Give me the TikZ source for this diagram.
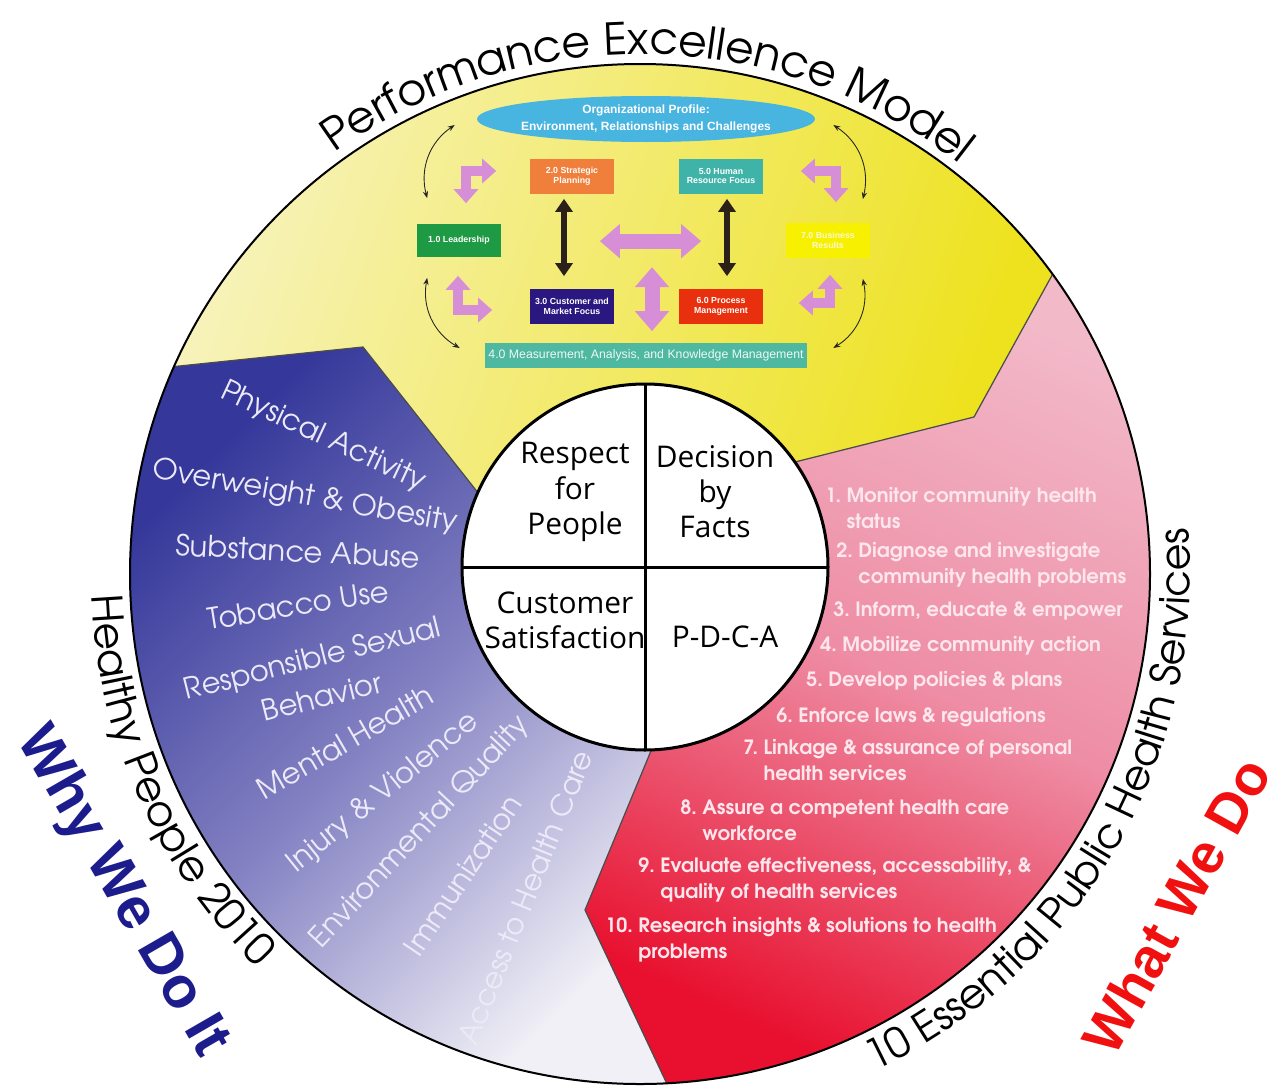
\documentclass[tikz,border=0pt]{standalone}
\usepackage{fontspec}
\usepackage{tikz}
\usetikzlibrary{arrows.meta,decorations.text,shapes.geometric}

\newfontfamily\gothic{texgyreadventor}[Extension=.otf, UprightFont=*-regular, BoldFont=*-bold]
\newfontfamily\hubfont{Open Sans}
\newfontfamily\boxfont{Liberation Sans}

\definecolor{palegold}{HTML}{F7F3BE}
\definecolor{gold}{HTML}{EEE21E}
\definecolor{hpdark}{HTML}{35389A}
\definecolor{hpmid}{HTML}{8583C3}
\definecolor{hplight}{HTML}{F1F0F6}
\definecolor{ephslight}{HTML}{F2B9C9}
\definecolor{ephsmid}{HTML}{EE8DA5}
\definecolor{ephsred}{HTML}{E8102E}
\definecolor{lavwhite}{HTML}{ECEAF8}
\definecolor{pinkwhite}{HTML}{FDE6EC}
\definecolor{orchid}{HTML}{D68FD6}
\definecolor{arrowdark}{HTML}{2B2118}
\definecolor{stratorange}{HTML}{F07F3C}
\definecolor{hrteal}{HTML}{3FB3A8}
\definecolor{leadgreen}{HTML}{1F9A44}
\definecolor{resyellow}{HTML}{F7F000}
\definecolor{resyellowtext}{HTML}{FBFAC8}
\definecolor{custnavy}{HTML}{2B1780}
\definecolor{procred}{HTML}{E8300E}
\definecolor{measteal}{HTML}{4FB8A0}
\definecolor{profileblue}{HTML}{48B4E0}
\definecolor{whynavy}{HTML}{1C1C8C}
\definecolor{whatred}{HTML}{F01010}

\newcommand\ringfont{\gothic\fontsize{25}{25}\selectfont}

\tikzset{
	seam/.style={draw=black!70, line width=0.025cm},
	kitebox/.style={rectangle, minimum width=1.7cm, minimum height=0.7cm, inner sep=1pt,
		text=white, align=center, font=\boxfont\bfseries\fontsize{5}{5.6}\selectfont},
	hubtext/.style={align=center, inner sep=0pt, font=\hubfont\fontsize{17}{20}\selectfont},
	hpitem/.style={text=lavwhite, inner sep=0pt, align=center, font=\gothic\fontsize{16.5}{22.8}\selectfont},
	svc/.style={anchor=base west, text=pinkwhite, inner sep=0pt, font=\gothic\bfseries\fontsize{11.2}{14.8}\selectfont},
	blackarr/.style={draw=arrowdark, line width=0.12cm,
		{Triangle[width=0.34cm,length=0.26cm]}-{Triangle[width=0.34cm,length=0.26cm]}},
	fatarr/.style={draw=orchid, line width=0.3cm,
		{Triangle[width=0.66cm,length=0.4cm]}-{Triangle[width=0.66cm,length=0.4cm]}},
	elbowarr/.style={draw=orchid, line width=0.2cm,
		{Triangle[width=0.48cm,length=0.28cm]}-{Triangle[width=0.48cm,length=0.28cm]}},
	linkarr/.style={draw=black!85, line width=0.5pt,
		{Stealth[length=4pt,width=3pt]}-{Stealth[length=4pt,width=3pt]}},
}

\begin{document}
\begin{tikzpicture}[x=0.02cm, y=0.02cm]
		%%%%% START %%%%%
		\useasboundingbox (0,0) rectangle (1282,-1086);
		
		\coordinate (O) at (640,-574);
		\coordinate (I) at (645,-567);
		
		% three coloured parts of the ring
		\shade[left color=palegold, right color=gold, shading angle=70]
			([shift={(156:510)}]O) -- (363,-347) -- ([shift={(156:183)}]I)
			arc[start angle=156, end angle=35, radius=183] -- (974,-417)
			-- ([shift={(36:510)}]O) arc[start angle=36, end angle=156, radius=510] -- cycle;
		\shade[top color=ephslight, bottom color=ephsred, middle color=ephsmid, shading angle=-25]
			([shift={(35:183)}]I) -- (974,-417) -- ([shift={(36:510)}]O)
			arc[start angle=36, end angle=-87, radius=510] -- (585,-910)
			-- ([shift={(-88:183)}]I) arc[start angle=-88, end angle=35, radius=183] -- cycle;
		\shade[top color=hpdark, bottom color=hplight, middle color=hpmid, shading angle=45]
			([shift={(156:510)}]O) -- (363,-347) -- ([shift={(156:183)}]I)
			arc[start angle=156, end angle=272, radius=183] -- (585,-910)
			-- ([shift={(-87:510)}]O) arc[start angle=273, end angle=156, radius=510] -- cycle;
		
		\draw[seam] ([shift={(156:510)}]O) -- (363,-347) -- ([shift={(156:183)}]I);
		\draw[seam] ([shift={(35:183)}]I) -- (974,-417) -- ([shift={(36:510)}]O);
		\draw[seam] ([shift={(-88:183)}]I) -- (585,-910) -- ([shift={(-87:510)}]O);
		
		\draw[line width=0.04cm] (O) circle[radius=510];
		
		% hub
		\draw[fill=white, line width=0.06cm] (I) circle[radius=183];
		\draw[line width=0.06cm] ([shift={(0,183)}]I) -- ([shift={(0,-183)}]I);
		\draw[line width=0.06cm] ([shift={(-183,0)}]I) -- ([shift={(183,0)}]I);
		
		\node[hubtext] (respect) at (575,-492) {Respect\\for\\People};
		\node[hubtext] (facts) at (715,-492) {Decision\\by\\Facts};
		\node[hubtext] (satisf) at (565,-620) {Customer\\Satisfaction};
		\node[hubtext] (pdca) at (725,-637) {P-D-C-A};
		
		% ring titles
		\path[decorate, decoration={text along path, text align=center,
			text={|\ringfont|Performance Excellence Model}}]
			([shift={(140:520)}]O) arc[start angle=140, end angle=38, radius=520];
		\path[decorate, decoration={text along path, text align=center,
			text={|\gothic\fontsize{24}{24}\selectfont|Healthy People 2010}}]
			([shift={(170:549)}]O) arc[start angle=170, end angle=238, radius=549];
		\path[decorate, decoration={text along path, text align=center,
			text={|\gothic\fontsize{23.5}{23.5}\selectfont|10 Essential Public Health Services}}]
			([shift={(-78:550)}]O) arc[start angle=-78, end angle=18, radius=550];
		
		% Healthy People focus areas
		\node[hpitem, rotate=-25] (hp1) at (323,-437) {Physical Activity};
		\node[hpitem, rotate=-10] (hp2) at (305,-497) {Overweight \& Obesity};
		\node[hpitem, rotate=-3] (hp3) at (298,-551) {Substance Abuse};
		\node[hpitem, rotate=9] (hp4) at (298,-605) {Tobacco Use};
		\node[hpitem, rotate=14] (hp5) at (317,-677) {Responsible Sexual\\Behavior};
		\node[hpitem, rotate=30] (hp6) at (345,-742) {Mental Health};
		\node[hpitem, rotate=39] (hp7) at (383,-793) {Injury \& Violence};
		\node[hpitem, rotate=47] (hp8) at (420,-832) {Environmental Quality};
		\node[hpitem, rotate=56] (hp9) at (463,-875) {Immunization};
		\node[hpitem, rotate=68] (hp10) at (525,-897) {Access to Health Care};
		
		% essential services
		\node[svc] (s1) at (825,-502) {\begin{tabular}[t]{@{}r@{\ }l@{}}1.&Monitor community health\\&status\end{tabular}};
		\node[svc] (s2) at (836,-557) {\begin{tabular}[t]{@{}r@{\ }l@{}}2.&Diagnose and investigate\\&community health problems\end{tabular}};
		\node[svc] (s3) at (833,-616) {\begin{tabular}[t]{@{}r@{\ }l@{}}3.&Inform, educate \& empower\end{tabular}};
		\node[svc] (s4) at (820,-651) {\begin{tabular}[t]{@{}r@{\ }l@{}}4.&Mobilize community action\end{tabular}};
		\node[svc] (s5) at (806,-686) {\begin{tabular}[t]{@{}r@{\ }l@{}}5.&Develop policies \& plans\end{tabular}};
		\node[svc] (s6) at (776,-722) {\begin{tabular}[t]{@{}r@{\ }l@{}}6.&Enforce laws \& regulations\end{tabular}};
		\node[svc] (s7) at (743,-754) {\begin{tabular}[t]{@{}r@{\ }l@{}}7.&Linkage \& assurance of personal\\&health services\end{tabular}};
		\node[svc] (s8) at (680,-814) {\begin{tabular}[t]{@{}r@{\ }l@{}}8.&Assure a competent health care\\&workforce\end{tabular}};
		\node[svc] (s9) at (638,-872) {\begin{tabular}[t]{@{}r@{\ }l@{}}9.&Evaluate effectiveness, accessability, \&\\&quality of health services\end{tabular}};
		\node[svc] (s10) at (605,-932) {\begin{tabular}[t]{@{}r@{\ }l@{}}10.&Research insights \& solutions to health\\&problems\end{tabular}};
		
		% criteria framework
		\node[ellipse, fill=profileblue, minimum width=6.76cm, minimum height=0.92cm, inner sep=0pt] (profile) at (646,-119) {};
		\node[text=white, align=center, inner sep=0pt, font=\boxfont\bfseries\fontsize{6.8}{9.5}\selectfont] (profiletext) at (profile) {Organizational Profile:\\Environment, Relationships and Challenges};
		
		\node[kitebox, fill=stratorange] (strat) at (572,-176) {2.0 Strategic\\Planning};
		\node[kitebox, fill=hrteal] (hr) at (721,-176) {5.0 Human\\Resource Focus};
		\node[kitebox, fill=leadgreen, minimum height=0.66cm] (lead) at (459,-240) {1.0 Leadership};
		\node[kitebox, fill=resyellow, text=resyellowtext] (results) at (828,-240) {7.0 Business\\Results};
		\node[kitebox, fill=custnavy] (cust) at (572,-306) {3.0 Customer and\\Market Focus};
		\node[kitebox, fill=procred] (proc) at (721,-306) {6.0 Process\\Management};
		\node[kitebox, fill=measteal, minimum width=6.44cm, minimum height=0.5cm, text=white!90!measteal,
			font=\boxfont\fontsize{7}{8}\selectfont] (measure) at (646,-355) {4.0 Measurement, Analysis, and Knowledge Management};
		
		\draw[blackarr] ([shift={(-8,-5)}]strat.south) -- ([shift={(-8,12)}]cust.north);
		\draw[blackarr] ([shift={(6,-5)}]hr.south) -- ([shift={(6,12)}]proc.north);
		\draw[fatarr] ([shift={(-15,47)}]cust.north east) -- ([shift={(23,47)}]proc.north west);
		\draw[fatarr] ([shift={(6,75)}]measure.north) -- ([shift={(6,11)}]measure.north);
		
		\draw[elbowarr] ([shift={(7,20)}]lead.north) |- ([shift={(-33,5)}]strat.west);
		\draw[elbowarr] ([shift={(37,5)}]hr.east) -| ([shift={(8,20)}]results.north);
		\draw[elbowarr] ([shift={(-1,-19)}]lead.south) |- ([shift={(-37,-4)}]cust.west);
		\draw[elbowarr] ([shift={(35,3)}]proc.east) -| ([shift={(2,-17)}]results.south);
		
		\draw[linkarr] ([shift={(-22,-6)}]profile.west) to[bend right=35] ([shift={(11,25)}]lead.north west);
		\draw[linkarr] ([shift={(11,-21)}]lead.south west) to[bend right=35] ([shift={(-25,7)}]measure.west);
		\draw[linkarr] ([shift={(18,-6)}]profile.east) to[bend left=35] ([shift={(-8,23)}]results.north east);
		\draw[linkarr] ([shift={(-8,-21)}]results.south east) to[bend left=35] ([shift={(26,7)}]measure.east);
		
		% side captions
		\node[rotate=-60, text=whynavy, font=\boxfont\bfseries\fontsize{33}{33}\selectfont] (why) at (122,-892) {Why We Do It};
		\node[rotate=61, text=whatred, font=\boxfont\bfseries\fontsize{32}{32}\selectfont] (what) at (1176,-906) {What We Do};
		%%%%% END %%%%%
\end{tikzpicture}
\end{document}
